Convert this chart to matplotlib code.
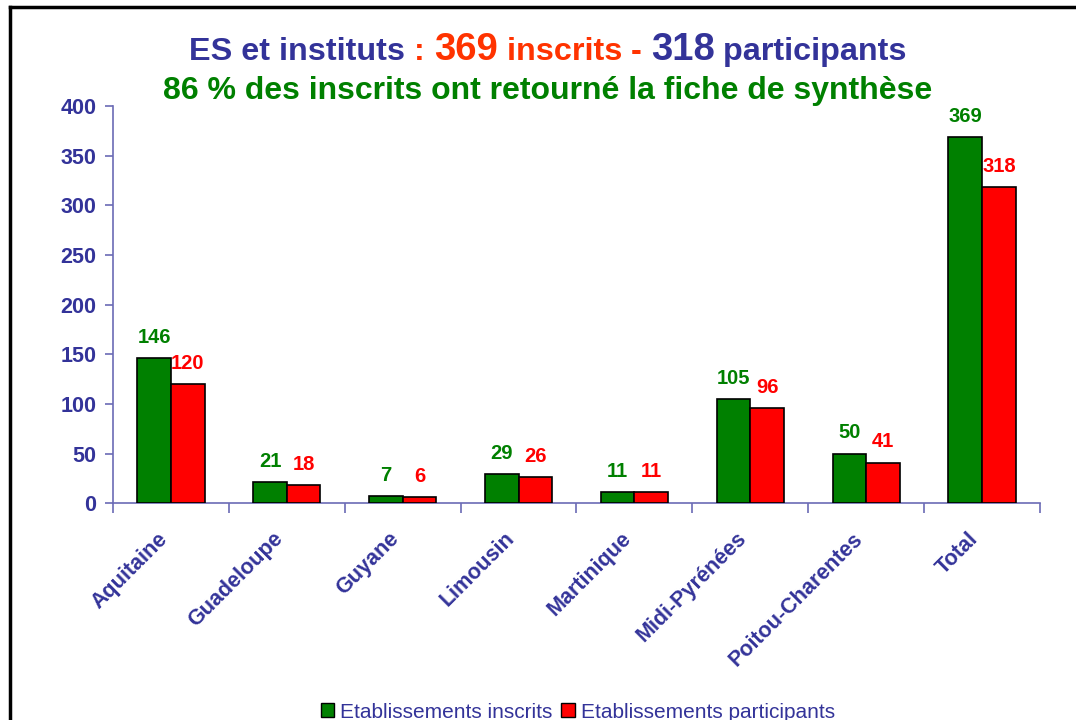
import matplotlib
matplotlib.use("Agg")
import matplotlib.pyplot as plt
import matplotlib.transforms as mtransforms
from matplotlib.lines import Line2D
import numpy as np

# data
regions = ["Aquitaine", "Guadeloupe", "Guyane", "Limousin", "Martinique",
           "Midi-Pyrénées", "Poitou-Charentes", "Total"]
inscrits = [146, 21, 7, 29, 11, 105, 50, 369]
participants = [120, 18, 6, 26, 11, 96, 41, 318]
yticks = [0, 50, 100, 150, 200, 250, 300, 350, 400]

BLUE = "#333399"
AXIS = "#6b6bb5"
GREEN = "#008000"
RED = "#ff0000"
ORANGE = "#ff3300"

plt.rcParams["font.family"] = ["Liberation Sans", "DejaVu Sans"]

fig = plt.figure(figsize=(10.76, 7.2), dpi=100)
ax = fig.add_axes([0.105, 0.301, 0.8615, 0.552])

x = np.arange(len(regions))
w = 0.29
b1 = ax.bar(x - w / 2, inscrits, w, color=GREEN, edgecolor="black", linewidth=1.2,
            label="Etablissements inscrits", zorder=3)
b2 = ax.bar(x + w / 2, participants, w, color=RED, edgecolor="black", linewidth=1.2,
            label="Etablissements participants", zorder=3)

for rect, v in zip(b1, inscrits):
    ax.annotate(str(v), (rect.get_x() + rect.get_width() / 2, v), xytext=(0, 8),
                textcoords="offset points", ha="center", va="bottom",
                color=GREEN, fontsize=14.5, fontweight="bold")
for rect, v in zip(b2, participants):
    ax.annotate(str(v), (rect.get_x() + rect.get_width() / 2, v), xytext=(0, 8),
                textcoords="offset points", ha="center", va="bottom",
                color=RED, fontsize=14.5, fontweight="bold")

ax.set_xlim(-0.5, len(regions) - 0.5)
ax.set_ylim(0, 400)
ax.set_yticks(yticks)
ax.tick_params(axis="y", colors=AXIS, labelcolor=BLUE, labelsize=15.5, length=6,
               width=1.2, direction="out", pad=6)
for lbl in ax.get_yticklabels():
    lbl.set_fontweight("bold")

# category ticks sit between the groups, labels at the centres
ax.set_xticks(np.arange(len(regions) + 1) - 0.5)
ax.set_xticklabels([])
ax.tick_params(axis="x", colors=AXIS, length=7, width=1.2, direction="out")
ax.set_xticks(x, minor=True)
ax.set_xticklabels(regions, minor=True, rotation=45, ha="right", va="top",
                   rotation_mode="anchor", color=BLUE, fontsize=15.5, fontweight="bold")
ax.tick_params(axis="x", which="minor", length=0, pad=18)
shift = mtransforms.ScaledTranslation(-14 / 100, 0, fig.dpi_scale_trans)
for lbl in ax.get_xticklabels(minor=True):
    lbl.set_transform(lbl.get_transform() + shift)

for side in ["top", "right"]:
    ax.spines[side].set_visible(False)
for side in ["left", "bottom"]:
    ax.spines[side].set_color(AXIS)
    ax.spines[side].set_linewidth(1.2)

# two-line coloured title
title1 = [("ES et instituts ", BLUE, 23.3), (": ", ORANGE, 23.3), ("369", ORANGE, 27.5),
          (" inscrits ", ORANGE, 23.3), ("- ", ORANGE, 23.3), ("318", BLUE, 27.5),
          (" participants", BLUE, 23.3)]
renderer = fig.canvas.get_renderer()
pieces = []
for txt, col, fs in title1:
    t = fig.text(0, 0.917, txt, color=col, fontsize=fs, fontweight="bold",
                 va="baseline", ha="left")
    pieces.append(t)
widths = [p.get_window_extent(renderer).width for p in pieces]
total = sum(widths)
xpos = (548 - total / 2)
for p, wd in zip(pieces, widths):
    p.set_x(xpos / fig.bbox.width)
    xpos += wd

fig.text(0.509, 0.8625, "86 % des inscrits ont retourné la fiche de synthèse",
         color=GREEN, fontsize=23, fontweight="bold", ha="center", va="baseline")

# legend at the bottom
handles = [plt.Rectangle((0, 0), 1, 1, facecolor=GREEN, edgecolor="black"),
           plt.Rectangle((0, 0), 1, 1, facecolor=RED, edgecolor="black")]
leg = fig.legend(handles, ["Etablissements inscrits", "Etablissements participants"],
                 loc="center", bbox_to_anchor=(0.537, 0.011), ncol=2, frameon=False,
                 fontsize=15, handlelength=0.65, handleheight=0.65, handletextpad=0.3,
                 columnspacing=0.4)
for t in leg.get_texts():
    t.set_color(BLUE)

# outer frame (top and left edges visible)
fig.add_artist(Line2D([0.009, 0.009], [0, 0.99], transform=fig.transFigure,
                      color="black", linewidth=2.5))
fig.add_artist(Line2D([0.009, 1.0], [0.99, 0.99], transform=fig.transFigure,
                      color="black", linewidth=2.5))

fig.savefig("out.png", dpi=100)
